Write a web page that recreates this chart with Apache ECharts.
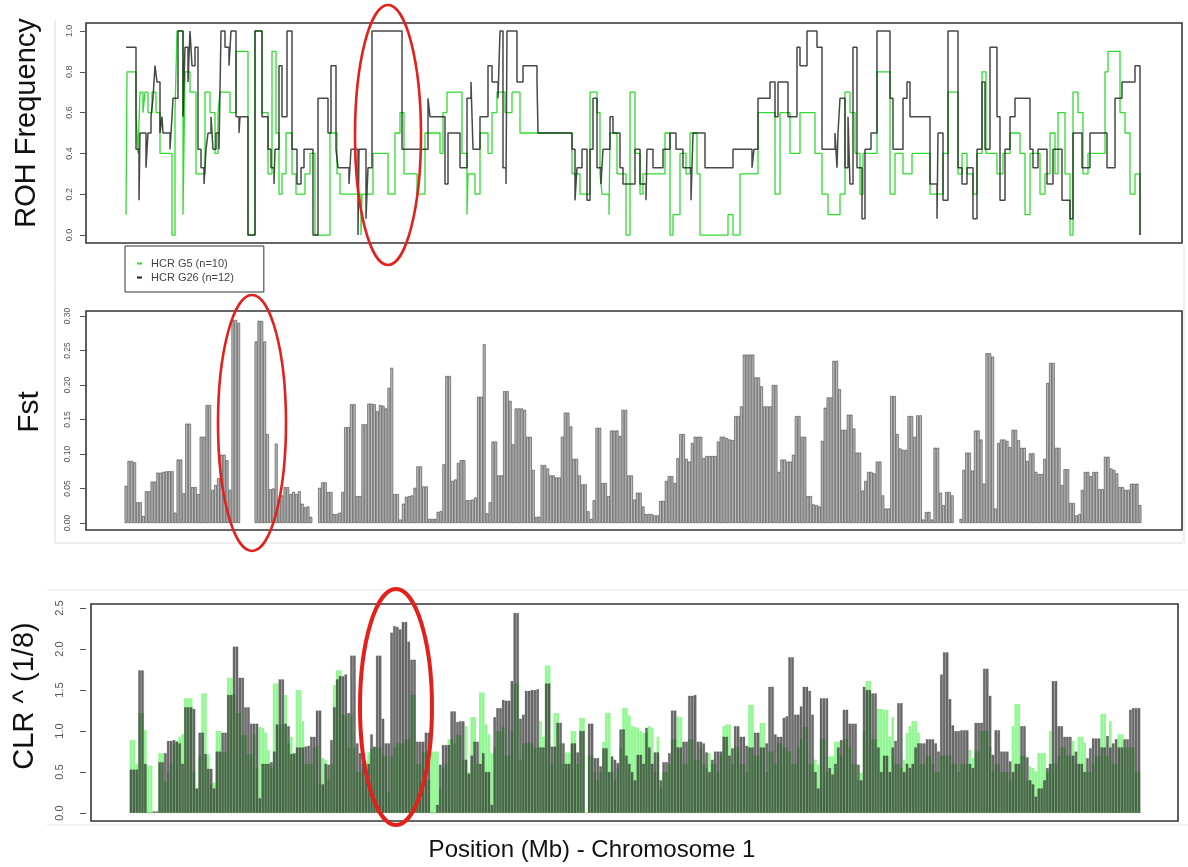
<!DOCTYPE html>
<html><head><meta charset="utf-8">
<script src="https://cdn.jsdelivr.net/npm/echarts@6/dist/echarts.min.js"></script>
<style>html,body{margin:0;padding:0;background:#fff}#c{width:1188px;height:867px}</style>
</head><body><div id="c"></div>
<script>
// ---------- DATA ----------
// ROH frequency step series: [position (Mb), frequency from this position on]
const rohG5 = [
[0,0.1],[0.2,0.8],[2.0,0.6],[2.4,0.4],[2.8,0.7],[3.4,0.6],[3.8,0.7],[4.4,0.6],[5.2,0.7],[6.0,0.6],[6.8,0.4],
[9.2,0.0],[9.8,0.6],[10.2,1.0],[11.4,0.1],[11.8,0.8],[12.8,0.7],[14.0,0.3],[15.8,0.7],[16.8,0.6],[17.8,0.4],
[18.4,0.6],[18.8,0.7],[20.8,0.6],[22.0,0.9],[24.4,0.0],[25.8,1.0],[27.2,0.6],[28.4,0.3],[29.2,0.9],[30.0,0.5],
[30.6,0.2],[31.2,0.3],[32.0,0.5],[33.2,0.3],[34.0,0.2],[35.8,0.3],[36.8,0.4],[37.8,0.0],[40.8,0.5],[42.2,0.3],
[42.8,0.2],[47.0,0.0],[47.2,0.2],[49.4,0.4],[52.4,0.2],[53.8,0.5],[54.8,0.6],[55.6,0.3],[58.2,0.2],[59.8,0.5],
[62.8,0.4],[63.4,0.6],[64.2,0.7],[67.2,0.4],[68.2,0.1],[68.4,0.3],[69.8,0.2],[70.8,0.5],[72.4,0.4],[73.2,0.6],
[74.2,0.7],[75.8,0.6],[77.2,0.7],[78.8,0.5],[89.2,0.3],[90.8,0.2],[92.8,0.7],[94.2,0.6],[94.8,0.3],[95.2,0.2],
[96.6,0.1],[96.8,0.5],[98.2,0.3],[100.0,0.0],[100.8,0.7],[101.8,0.4],[102.8,0.2],[103.4,0.3],[107.8,0.5],
[108.8,0.0],[109.4,0.1],[110.8,0.4],[112.0,0.3],[112.8,0.5],[114.2,0.3],[114.8,0.0],[120.4,0.1],[121.4,0.0],
[122.8,0.3],[126.4,0.6],[129.8,0.2],[130.8,0.6],[132.8,0.4],[134.8,0.6],[137.8,0.4],[139.2,0.2],[140.4,0.1],
[142.8,0.2],[143.8,0.7],[144.8,0.6],[145.8,0.4],[146.8,0.2],[147.4,0.4],[150.2,0.8],[152.8,0.2],[153.8,0.4],
[155.4,0.3],[157.2,0.4],[160.8,0.2],[163.4,0.4],[164.4,0.7],[166.4,0.3],[167.2,0.4],[168.2,0.3],[169.4,0.2],
[170.2,0.4],[171.2,0.8],[172.0,0.4],[174.2,0.3],[175.4,0.4],[176.8,0.5],[178.8,0.4],[179.8,0.1],[180.8,0.4],
[182.8,0.2],[183.8,0.3],[184.8,0.5],[185.8,0.3],[186.4,0.6],[187.8,0.3],[188.8,0.0],[189.4,0.7],[190.4,0.6],
[191.4,0.3],[192.4,0.4],[195.8,0.8],[196.4,0.9],[198.8,0.6],[199.8,0.5],[200.8,0.2],[201.8,0.3],[202.8,0.0]
];
const rohG26 = [
[0,0.92],[2.0,0.42],[2.6,0.17],[2.8,0.5],[4.0,0.33],[4.4,0.5],[5.0,0.58],[5.4,0.67],[5.8,0.83],[6.2,0.75],
[6.8,0.5],[7.2,0.58],[7.4,0.5],[8.8,0.42],[9.2,0.58],[9.4,0.67],[10.4,1.0],[11.4,0.58],[11.8,0.92],[12.4,0.75],
[12.8,1.0],[13.2,0.83],[13.8,0.92],[14.4,0.42],[15.0,0.33],[15.6,0.25],[16.0,0.42],[16.4,0.5],[17.0,0.58],
[17.4,0.42],[18.0,0.5],[18.6,0.42],[19.0,1.0],[19.8,0.92],[20.6,0.83],[21.0,1.0],[22.0,0.58],[22.6,0.5],
[22.8,0.58],[24.4,0.0],[25.8,1.0],[27.2,0.58],[28.4,0.42],[29.0,0.33],[29.6,0.25],[29.8,0.42],[30.6,0.83],
[31.2,0.58],[32.2,1.0],[33.2,0.42],[34.2,0.25],[35.0,0.33],[35.6,0.42],[37.4,0.0],[38.4,0.67],[40.4,0.5],
[41.0,0.83],[42.0,0.42],[42.4,0.33],[44.6,0.25],[45.0,0.42],[46.4,0.0],[46.6,0.42],[48.0,0.08],[48.4,0.33],
[49.2,1.0],[55.2,0.42],[60.4,0.67],[60.8,0.58],[63.8,0.25],[64.4,0.5],[66.8,0.33],[68.2,0.67],[69.0,0.75],
[69.4,0.42],[70.8,0.58],[72.4,0.83],[73.2,0.75],[74.4,0.67],[74.8,1.0],[75.4,0.33],[76.0,0.25],[76.2,1.0],
[78.2,0.75],[79.4,0.83],[82.2,0.75],[82.4,0.5],[89.2,0.42],[89.8,0.17],[90.2,0.33],[91.2,0.42],[92.2,0.17],
[92.8,0.42],[93.4,0.67],[94.2,0.33],[95.0,0.25],[95.4,0.42],[96.8,0.58],[97.4,0.5],[98.8,0.33],[99.4,0.25],
[101.8,0.42],[102.8,0.25],[104.0,0.17],[104.2,0.42],[105.4,0.33],[107.4,0.42],[108.8,0.5],[110.0,0.42],
[111.4,0.33],[113.0,0.17],[113.4,0.5],[115.8,0.33],[121.4,0.42],[125.2,0.33],[125.6,0.42],[126.4,0.67],
[128.8,0.75],[129.8,0.58],[130.4,0.75],[132.4,0.58],[134.2,0.92],[134.8,0.83],[136.2,1.0],[138.2,0.92],
[139.2,0.42],[141.8,0.5],[142.2,0.33],[142.4,0.5],[142.8,0.67],[143.8,0.33],[144.4,0.58],[144.8,0.25],
[145.4,0.92],[146.2,0.33],[147.2,0.08],[147.8,0.42],[149.0,0.5],[150.2,1.0],[152.8,0.67],[153.4,0.42],
[155.4,0.67],[156.2,0.75],[156.8,0.58],[160.8,0.25],[162.2,0.08],[162.4,0.5],[163.4,0.17],[164.4,1.0],
[166.4,0.33],[167.2,0.25],[168.2,0.33],[169.4,0.08],[170.2,0.42],[171.2,0.75],[171.8,0.42],[172.8,0.92],
[174.2,0.58],[174.8,0.17],[175.8,0.42],[176.8,0.58],[177.8,0.67],[180.8,0.42],[181.4,0.33],[182.4,0.42],
[184.2,0.25],[185.4,0.42],[187.2,0.17],[188.8,0.08],[189.4,0.5],[191.2,0.33],[192.8,0.5],[196.2,0.33],
[197.8,0.67],[199.2,0.75],[201.8,0.83],[202.8,0.0]
];
// Fst per window (null = no window)
const fstValues = [
0.054,0.09,0.09,0.088,0.03,0.03,0.01,0.046,0.046,0.06,
0.06,0.073,0.073,0.074,0.075,0.075,0.075,0.015,0.092,0.092,
0.043,0.144,0.144,0.052,0.052,0.042,0.125,0.125,0.171,0.171,
0.048,0.055,0.065,0.099,0.099,0.091,0.048,0.294,0.294,0.29,
null,null,null,null,null,
0.263,0.293,0.293,0.263,0.129,0.049,0.05,0.115,0.035,0.04,
0.052,0.052,0.042,0.045,0.042,0.046,0.028,0.023,0.024,0.009,
null,null,
0.051,0.059,0.059,0.045,0.045,0.013,0.013,0.015,0.045,0.139,
0.139,0.172,0.172,0.039,0.039,0.143,0.143,0.173,0.173,0.172,
0.162,0.171,0.17,0.166,0.196,0.225,
0.042,0.042,0.005,0.028,0.038,0.039,0.04,0.051,0.082,0.082,
0.053,0.053,0.006,0.006,0.006,0.016,0.017,0.085,0.213,0.213,
0.061,0.063,0.087,0.091,0.091,0.033,0.033,0.034,0.037,0.183,
0.183,0.259,0.014,0.03,0.118,0.118,0.069,0.069,0.191,0.191,
0.177,0.114,0.166,0.166,0.166,0.164,0.125,0.125,0.077,0.009,
0.009,0.084,0.084,0.079,0.069,0.069,0.066,0.066,0.125,0.16,
0.16,0.14,0.093,0.093,0.069,0.056,0.056,0.017,0.006,0.033,
0.138,0.138,0.058,0.058,0.039,0.134,0.134,0.134,0.126,0.164,
0.164,0.069,0.069,0.034,0.044,0.044,0.024,0.013,0.013,0.013,
0.011,0.011,0.032,0.032,0.061,0.068,0.068,0.058,0.094,0.129,
0.129,0.093,0.089,0.116,0.125,0.125,0.125,0.094,0.097,0.097,
0.097,0.097,0.118,0.125,0.125,0.123,0.121,0.12,0.155,0.155,
0.169,0.244,0.244,0.244,0.244,0.211,0.211,0.198,0.169,0.169,
0.169,0.2,0.2,0.074,0.092,0.092,0.089,0.089,0.099,0.155,
0.155,0.125,
0.125,0.039,0.039,0.027,0.026,0.024,0.119,0.167,0.182,0.182,
0.235,0.235,0.194,0.135,0.135,0.157,0.157,0.137,0.102,0.102,
0.047,0.061,0.074,0.074,0.072,0.089,0.089,0.04,0.021,0.021,
0.184,0.184,0.129,0.108,0.106,0.106,0.155,0.155,0.125,0.156,
0.156,0.005,0.016,0.016,0.005,0.109,0.109,0.044,0.026,0.045,
0.045,0.04,null,null,0.006,0.077,0.102,0.102,0.076,0.134,
0.134,0.121,0.057,0.246,0.246,0.241,0.021,0.116,0.121,0.121,
0.119,0.11,0.135,0.135,0.12,0.109,0.109,0.09,0.101,0.101,
0.074,0.071,0.071,0.093,0.203,0.232,0.232,0.109,0.109,0.055,
0.078,0.078,0.029,0.029,0.011,0.013,0.048,0.074,0.074,0.068,
0.074,0.074,0.049,0.049,0.096,0.096,0.079,0.077,0.072,0.052,
0.052,0.048,0.048,0.057,0.057,0.057,0.026
];
// CLR^(1/8) per window, G26 (grey) and G5 (green)
const clrG26 = [
0.53,0.53,0.53,1.74,1.74,0.6,0.0,0.0,0.02,0.02,
0.62,0.62,0.73,0.88,0.88,0.89,0.87,0.85,0.6,1.29,
1.29,1.29,1.27,0.3,0.98,0.98,0.72,0.54,0.54,0.3,
0.75,0.75,0.98,0.98,1.44,1.44,2.03,2.03,1.65,1.65,
1.29,1.29,1.09,1.09,1.09,0.18,0.6,0.6,0.6,0.62,
0.75,1.08,1.63,1.63,1.09,1.06,0.72,0.73,0.8,0.8,
0.8,0.81,0.82,0.93,0.93,1.25,1.25,0.35,0.6,0.59,
0.89,1.29,1.63,1.67,1.67,1.69,1.22,1.92,1.92,0.85,
0.73,0.73,0.49,0.6,0.96,0.81,1.92,1.92,1.15,0.85,
0.85,2.2,2.28,2.27,2.24,2.33,2.33,
2.09,1.87,1.87,0.87,0.87,0.87,0.98,0.98,0.0,0.0,
0.1,0.59,0.83,0.83,0.83,1.24,1.24,1.11,1.12,1.12,
0.65,0.48,0.7,0.87,0.87,0.6,0.73,0.5,0.5,0.1,
1.17,1.28,1.28,1.38,1.37,1.37,1.61,2.44,2.44,1.15,
1.2,1.49,1.49,1.5,1.5,1.51,0.8,0.8,1.58,1.58,
0.81,0.81,1.1,1.1,0.85,0.6,0.6,0.85,0.85,0.74,
1.0,1.0,0.0,1.09,1.09,0.67,0.67,0.57,0.79,0.79,
0.5,0.69,0.65,0.61,1.02,1.02,0.7,0.6,0.5,0.4,
0.71,0.71,0.6,1.04,0.8,0.6,0.74,0.74,0.4,0.62,
0.62,0.73,1.25,1.25,0.8,0.8,0.87,0.87,1.43,1.43,
1.44,0.87,0.87,0.85,0.74,0.5,0.65,0.75,0.75,0.75,
0.93,0.93,0.7,0.79,1.06,1.06,0.93,0.93,0.82,0.8,
0.8,0.98,0.98,0.8,0.8,0.85,1.54,1.54,0.96,0.93,
0.93,1.16,1.18,
1.9,1.9,1.2,1.2,1.3,1.54,1.54,1.49,1.2,0.5,
0.3,1.4,1.4,1.4,0.55,0.47,0.6,0.8,0.89,1.26,
1.26,1.09,1.09,1.09,0.59,0.4,1.54,1.5,1.5,1.46,
1.46,0.8,0.5,0.7,0.7,0.5,0.8,0.88,1.34,1.34,
0.5,0.6,0.55,0.6,0.8,0.85,0.85,0.85,0.9,0.9,
0.9,0.85,0.75,1.69,1.96,1.96,1.39,1.07,1.0,1.0,
1.01,1.01,1.01,0.6,0.55,1.1,1.1,1.1,1.76,1.76,
1.43,0.71,1.01,1.01,0.75,0.75,0.75,0.63,0.5,0.6,
0.6,1.06,1.06,0.68,0.4,0.35,0.2,0.3,0.3,0.4,
0.55,0.6,1.61,1.61,1.06,1.06,0.93,0.93,0.93,0.7,
0.75,0.6,0.6,0.5,0.67,0.79,0.91,0.91,0.91,0.8,
0.8,0.94,0.8,0.85,0.9,0.8,0.8,0.9,0.9,1.26,
1.28,1.28,1.28
];
const clrG5 = [
0.89,0.89,0.6,1.22,1.22,1.01,0.58,0.58,0.0,0.0,
0.73,0.73,0.38,0.5,0.6,0.85,0.88,0.93,0.96,1.4,
1.4,1.4,0.5,0.3,0.7,1.46,1.46,0.72,0.35,0.37,
1.0,1.0,0.74,0.74,1.65,1.65,1.45,1.22,1.22,0.95,
0.95,0.72,0.72,0.95,0.55,1.05,1.04,0.98,0.77,0.55,
1.58,1.58,1.08,1.08,1.44,0.85,0.93,0.72,1.5,1.5,
1.12,0.6,0.6,0.6,0.8,0.82,0.35,0.67,0.65,0.4,
0.6,1.56,1.74,1.74,1.2,1.2,0.8,1.2,0.8,0.5,
0.5,0.6,0.63,0.74,0.78,0.8,0.8,0.8,0.7,0.7,
0.25,0.7,0.8,0.85,0.85,0.85,0.9,
0.9,1.44,1.44,0.6,0.6,0.75,0.75,0.4,0.75,0.75,
0.75,0.3,0.55,0.6,0.9,0.9,0.85,0.95,0.95,0.65,
1.06,0.5,1.17,1.17,0.6,1.47,1.47,1.08,0.96,0.73,
0.8,1.0,1.0,1.05,0.7,0.7,1.0,1.58,1.58,0.65,
0.85,0.85,0.85,0.85,0.8,0.8,1.12,0.93,1.8,1.8,
0.6,1.22,1.22,0.85,0.6,0.74,0.74,1.0,1.0,0.6,
1.16,1.16,0.0,0.7,0.7,0.5,0.4,0.5,0.87,1.22,
1.22,0.5,0.4,0.55,0.8,1.28,1.28,1.19,1.06,1.05,
1.04,1.0,0.98,0.98,1.06,1.04,0.5,0.93,0.3,0.5,
0.5,0.6,0.9,0.9,1.18,1.17,0.6,0.6,0.9,0.9,
0.65,0.65,0.8,0.6,0.55,0.73,0.6,0.6,0.5,0.7,
1.06,1.08,1.08,0.6,0.8,0.8,0.6,0.6,0.5,1.32,
1.32,0.7,0.7,1.1,1.1,0.5,0.75,0.75,0.6,0.85,
0.85,0.8,0.8,
0.75,0.6,0.6,0.8,0.9,1.05,1.05,0.6,0.6,0.65,
0.59,0.9,0.9,0.5,0.69,0.69,0.87,0.87,0.7,0.9,
0.9,0.8,0.6,0.6,0.4,0.49,1.0,1.61,1.61,0.9,
0.9,1.27,1.27,1.26,1.26,0.93,1.17,0.6,0.6,0.55,
0.65,0.98,1.06,1.12,1.12,0.98,0.6,0.6,0.7,0.7,
0.6,0.5,0.5,0.7,0.7,0.7,0.7,0.6,0.6,0.5,
0.6,0.6,0.6,0.77,0.67,0.75,0.75,1.0,1.0,1.0,
0.8,0.5,0.6,0.6,0.5,0.5,0.5,0.4,1.06,1.33,
1.33,0.7,0.7,0.4,0.57,0.55,0.51,0.73,0.73,0.73,
0.5,1.0,0.6,0.6,0.7,0.8,0.8,0.7,0.7,0.88,
0.6,0.93,0.93,0.86,0.5,0.5,0.6,0.7,0.7,1.21,
1.21,0.7,1.12,0.6,0.6,0.96,0.96,0.8,0.8,0.8,
0.8,0.5,0.5
];
const rohTicks = [0, 0.2, 0.4, 0.6, 0.8, 1.0];
const fstTicks = [0, 0.05, 0.10, 0.15, 0.20, 0.25, 0.30];
const clrTicks = [0, 0.5, 1.0, 1.5, 2.0, 2.5];
const legendNames = ['HCR G5 (n=10)', 'HCR G26 (n=12)'];

// ---------- CHART ----------
const FONT = '"Liberation Sans", Arial, Helvetica, sans-serif';
const chart = echarts.init(document.getElementById('c'));

const fstStep = (1140 - 126) / (fstValues.length - 1);
const clrN = Math.max(clrG26.length, clrG5.length);
const clrStep = (1139 - 131) / (clrN - 1);

function yAxisCfg(idx, min, max, ticks, digits, fs, margin, offset, tlen) {
  return {
    type: 'value', gridIndex: idx, min: min, max: max, offset: offset, position: 'left',
    axisLine: { show: false, onZero: false }, splitLine: { show: false },
    axisTick: { show: true, customValues: ticks, length: tlen, lineStyle: { color: '#555', width: 1 } },
    axisLabel: { customValues: ticks, rotate: 90, fontSize: fs, color: '#555', fontFamily: FONT,
      margin: margin, formatter: v => Number(v).toFixed(digits) }
  };
}
const gridBase = { show: true, borderColor: '#353535', borderWidth: 1.6, backgroundColor: 'transparent' };

const option = {
  animation: false,
  backgroundColor: '#fff',
  grid: [
    Object.assign({ left: 86, top: 23, width: 1096, height: 220 }, gridBase),
    Object.assign({ left: 86, top: 311, width: 1096, height: 219 }, gridBase),
    Object.assign({ left: 91, top: 604, width: 1087, height: 217 }, gridBase)
  ],
  xAxis: [
    { type: 'value', gridIndex: 0, min: -8, max: 211.2, show: false },
    { type: 'value', gridIndex: 1, min: -40 / fstStep, max: fstValues.length - 1 + 42 / fstStep, show: false },
    { type: 'value', gridIndex: 2, min: -40 / clrStep, max: clrN - 1 + 39 / clrStep, show: false }
  ],
  yAxis: [
    yAxisCfg(0, -0.039, 1.039, rohTicks, 1, 9, 12, 0, 6),
    yAxisCfg(1, -0.0101, 0.3072, fstTicks, 2, 8.5, 14, 0, 6),
    yAxisCfg(2, -0.0976, 2.549, clrTicks, 1, 11, 21, 5, 6)
  ],
  legend: {
    orient: 'vertical', left: 125, top: 246, selectedMode: false,
    data: legendNames.map(n => ({ name: n, icon: 'rect' })),
    itemWidth: 5, itemHeight: 2, itemGap: 3,
    borderColor: '#333', borderWidth: 1, padding: [12, 30, 9, 12],
    textStyle: { fontSize: 11, color: '#444', fontFamily: FONT, padding: [0, 0, 0, 4] }
  },
  series: [
    { name: legendNames[0], type: 'line', xAxisIndex: 0, yAxisIndex: 0, step: 'end', data: rohG5,
      showSymbol: false, lineStyle: { color: '#2fdc2f', width: 1.3 }, itemStyle: { color: '#2fdc2f' }, z: 2 },
    { name: legendNames[1], type: 'line', xAxisIndex: 0, yAxisIndex: 0, step: 'end', data: rohG26,
      showSymbol: false, lineStyle: { color: 'rgba(20,20,20,0.78)', width: 1.5 }, itemStyle: { color: '#222' }, z: 3 },
    { name: 'Fst', type: 'bar', xAxisIndex: 1, yAxisIndex: 1, barWidth: 2.8,
      data: fstValues.map((v, i) => [i, v]),
      itemStyle: { color: '#b8b8b8', borderColor: '#454545', borderWidth: 0.6 } },
    { name: 'CLR G5', type: 'bar', xAxisIndex: 2, yAxisIndex: 2, barWidth: 2.7, barGap: '-100%',
      data: clrG5.map((v, i) => [i, v]),
      itemStyle: { color: 'rgba(40,240,40,0.5)' } },
    { name: 'CLR G26', type: 'bar', xAxisIndex: 2, yAxisIndex: 2, barWidth: 2.7, barGap: '-100%',
      data: clrG26.map((v, i) => [i, v]),
      itemStyle: { color: 'rgba(50,50,50,0.72)', borderColor: 'rgba(0,0,0,0.35)', borderWidth: 0.4 } }
  ],
  graphic: [
    // faint outer frames of the source figure panels
    { type: 'line', shape: { x1: 55, y1: 20, x2: 55, y2: 543 }, style: { stroke: '#dcdcdc', lineWidth: 1 }, silent: true },
    { type: 'line', shape: { x1: 55, y1: 543, x2: 1183, y2: 543 }, style: { stroke: '#dcdcdc', lineWidth: 1 }, silent: true },
    { type: 'line', shape: { x1: 1184, y1: 245, x2: 1184, y2: 543 }, style: { stroke: '#e2e2e2', lineWidth: 1 }, silent: true },
    { type: 'line', shape: { x1: 47, y1: 590, x2: 1188, y2: 590 }, style: { stroke: '#e4e4e4', lineWidth: 1 }, silent: true },
    { type: 'line', shape: { x1: 47, y1: 825, x2: 1188, y2: 825 }, style: { stroke: '#e4e4e4', lineWidth: 1 }, silent: true },
    // axis titles
    { type: 'text', x: 27, y: 123, rotation: Math.PI / 2,
      style: { text: 'ROH Frequency', font: '29px ' + FONT, fill: '#111', align: 'center', verticalAlign: 'middle' } },
    { type: 'text', x: 30, y: 412, rotation: Math.PI / 2,
      style: { text: 'Fst', font: '30px ' + FONT, fill: '#111', align: 'center', verticalAlign: 'middle' } },
    { type: 'text', x: 25, y: 696, rotation: Math.PI / 2,
      style: { text: 'CLR ^ (1/8)', font: '29px ' + FONT, fill: '#111', align: 'center', verticalAlign: 'middle' } },
    { type: 'text', x: 592, y: 850,
      style: { text: 'Position (Mb) - Chromosome 1', font: '24px ' + FONT, fill: '#111', align: 'center', verticalAlign: 'middle' } },
    // red highlight ellipses
    { type: 'ellipse', z: 100, shape: { cx: 388, cy: 135, rx: 33, ry: 130 }, style: { fill: 'none', stroke: '#e3201b', lineWidth: 2.6 }, silent: true },
    { type: 'ellipse', z: 100, shape: { cx: 252, cy: 423, rx: 34, ry: 128 }, style: { fill: 'none', stroke: '#e3201b', lineWidth: 2.6 }, silent: true },
    { type: 'ellipse', z: 100, shape: { cx: 396, cy: 707, rx: 36, ry: 118 }, style: { fill: 'none', stroke: '#e3201b', lineWidth: 4 }, silent: true }
  ]
};
chart.setOption(option);
</script>
</body></html>
